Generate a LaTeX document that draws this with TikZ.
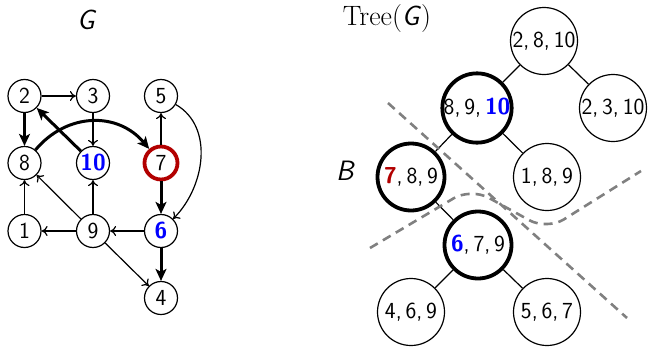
\documentclass[tikz,border=0pt]{standalone}
\usepackage{fontspec}
\usetikzlibrary{arrows.meta}
\definecolor{dred}{RGB}{178,0,0}
\definecolor{vblue}{RGB}{0,0,255}
\begin{document}
\begin{tikzpicture}[x=1pt,y=-1pt,
  every node/.style={font=\fontsize{23}{27}\selectfont\sffamily},
  lbl/.style={font=\fontsize{28}{32}\selectfont\sffamily},
  gv/.style={circle,draw,line width=1.2pt,minimum size=33pt,inner sep=0pt},
  tv/.style={circle,draw,line width=1.2pt,minimum size=67pt,inner sep=0pt},
  tvb/.style={tv,line width=3.8pt},
  thinarc/.style={line width=1.2pt,-{To[length=6pt,width=10pt]}},
  thickarc/.style={line width=3pt,-{Stealth[length=12pt,width=11pt,inset=3pt]}},
  cut/.style={gray,line width=2.6pt,dash pattern=on 9pt off 6pt},
  tedge/.style={line width=1.2pt}]
\useasboundingbox (0,0) rectangle (648,351);

% labels
\node[lbl] (lG) at (86,20) {\itshape G};
\node[lbl] (lT) at (387,19) {\rmfamily Tree(\textsf{\itshape G})};
\node[lbl] (lB) at (345,171) {\itshape B};

% graph G
\node[gv] (g2) at (24.5,96) {2};
\node[gv] (g3) at (93,96) {3};
\node[gv] (g5) at (161,96) {5};
\node[gv] (g8) at (24.5,163) {8};
\node[gv] (g10) at (93,163) {\textcolor{vblue}{\bfseries 10}};
\node[gv,draw=dred,line width=3.8pt] (g7) at (161,163) {7};
\node[gv] (g1) at (24.5,231) {1};
\node[gv] (g9) at (93,231) {9};
\node[gv] (g6) at (161,231) {\textcolor{vblue}{\bfseries 6}};
\node[gv] (g4) at (161,298) {4};

\draw[thinarc] (g2) -- (g3);
\draw[thinarc] (g3) -- (g10);
\draw[thinarc] (g7) -- (g5);
\draw[thinarc] (g5) to[out=-30,in=45] (g6);
\draw[thinarc] (g6) -- (g9);
\draw[thinarc] (g9) -- (g1);
\draw[thinarc] (g1) -- (g8);
\draw[thinarc] (g9) -- (g8);
\draw[thinarc] (g9) -- (g10);
\draw[thinarc] (g9) -- (g4);
\draw[thickarc] (g2) -- (g8);
\draw[thickarc] (g10) -- (g2);
\draw[thickarc] (g8) to[out=50,in=130,looseness=1.1] (g7);
\draw[thickarc] (g7) -- (g6);
\draw[thickarc] (g6) -- (g4);

% Tree(G)
\node[tv]  (t1) at (544,41)  {2,\,8,\,10};
\node[tvb] (t2) at (477,108) {8,\,9,\,\textcolor{vblue}{\bfseries 10}};
\node[tv]  (t3) at (613,108) {2,\,3,\,10};
\node[tvb] (t4) at (411,177) {\textcolor{dred}{\bfseries 7},\,8,\,9};
\node[tv]  (t5) at (547,177) {1,\,8,\,9};
\node[tvb] (t6) at (478,245) {\textcolor{vblue}{\bfseries 6},\,7,\,9};
\node[tv]  (t7) at (411,312) {4,\,6,\,9};
\node[tv]  (t8) at (547,312) {5,\,6,\,7};

\draw[tedge] (t1) -- (t2);
\draw[tedge] (t1) -- (t3);
\draw[tedge] (t2) -- (t4);
\draw[tedge] (t2) -- (t5);
\draw[tedge] (t4) -- (t6);
\draw[tedge] (t6) -- (t7);
\draw[tedge] (t6) -- (t8);

% cuts
\coordinate (a1) at (388,103);
\coordinate (a2) at (627,318);
\draw[cut] (a1) -- (a2);
\coordinate (b1) at (370,248);
\coordinate (b2) at (471,188);
\coordinate (b3) at (547,230);
\coordinate (b4) at (641,171);
\draw[cut,rounded corners=20pt] (b1) -- (b2) -- (b3) -- (b4);
\end{tikzpicture}
\end{document}
